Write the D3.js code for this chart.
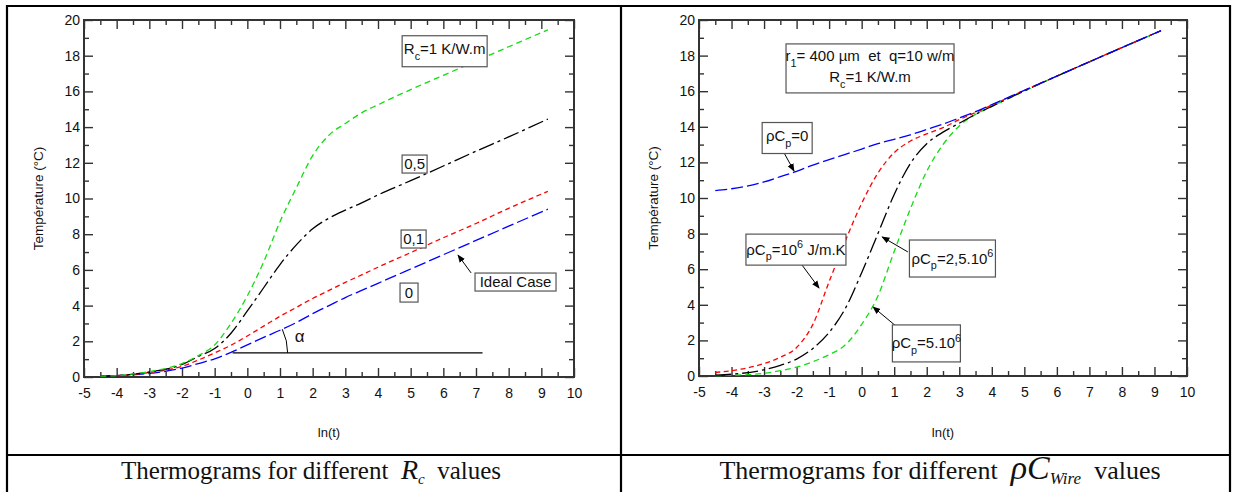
<!DOCTYPE html>
<html>
<head>
<meta charset="utf-8">
<script src="https://cdn.jsdelivr.net/npm/d3@7"></script>
<style>
  body { margin: 0; background: #fff; }
  svg { display: block; }
  text { font-family: "Liberation Sans", Arial, sans-serif; fill: #111; white-space: pre; }
  .caption { font-family: "Liberation Serif", "Times New Roman", serif; }
</style>
</head>
<body>
<svg id="chart" width="1233" height="492"></svg>
<script>
// ---- data ----
// left panel: contact resistance Rc
const lnT_Rc = [-4.5, -4, -3, -2, -1.5, -1, -0.5, 0, 0.5, 1, 1.5, 2, 2.5, 3, 3.5, 4, 5, 6, 7, 8, 9.2];
const T_Rc0  = [0.05, 0.08, 0.2, 0.5, 0.75, 1.02, 1.38, 1.8, 2.22, 2.62, 3.05, 3.55, 4.0, 4.45, 4.85, 5.25, 6.05, 6.85, 7.65, 8.45, 9.4];
const T_Rc01 = [0.05, 0.08, 0.25, 0.6, 0.95, 1.35, 1.78, 2.3, 2.85, 3.4, 3.9, 4.4, 4.85, 5.3, 5.72, 6.15, 6.97, 7.8, 8.6, 9.45, 10.4];
const T_Rc05 = [0.05, 0.08, 0.28, 0.7, 1.15, 1.6, 2.45, 3.7, 5.0, 6.3, 7.4, 8.3, 8.9, 9.35, 9.75, 10.2, 11.0, 11.82, 12.65, 13.45, 14.45];
const T_Rc1  = [0.05, 0.08, 0.3, 0.75, 1.2, 1.8, 3.0, 4.55, 6.45, 8.7, 10.6, 12.4, 13.55, 14.2, 14.8, 15.25, 16.1, 16.9, 17.7, 18.5, 19.45];

// right panel: wire heat capacity rhoCp
const lnT_rho   = [-4.5, -4, -3, -2.5, -2, -1.5, -1, -0.5, 0, 0.5, 1, 1.5, 2, 2.5, 3, 3.5, 4, 5, 6, 7, 8, 9.2];
const T_rho0    = [10.42, 10.52, 10.9, 11.2, 11.5, 11.85, 12.15, 12.45, 12.75, 13.05, 13.3, 13.55, 13.85, 14.15, 14.5, 14.85, 15.25, 16.05, 16.85, 17.65, 18.45, 19.4];
const T_rho1e6  = [0.2, 0.3, 0.7, 1.05, 1.6, 2.9, 5.3, 7.6, 9.7, 11.4, 12.55, 13.2, 13.6, 13.95, 14.4, 14.8, 15.22, 16.05, 16.85, 17.65, 18.45, 19.4];
const T_rho25e6 = [0.05, 0.1, 0.35, 0.6, 0.95, 1.55, 2.45, 3.8, 5.8, 8.0, 10.2, 11.95, 13.05, 13.7, 14.2, 14.7, 15.15, 16.02, 16.85, 17.65, 18.45, 19.4];
const T_rho5e6  = [0.02, 0.04, 0.15, 0.3, 0.5, 0.8, 1.2, 1.75, 2.9, 4.5, 7.0, 9.4, 11.5, 13.0, 14.05, 14.7, 15.15, 16.0, 16.85, 17.65, 18.45, 19.4];

const xDomain = [-5, 10];
const yDomain = [0, 20];
const xTickValues = d3.range(-5, 11, 1);
const yTickValues = d3.range(0, 21, 2);

const xTitle = "ln(t)";
const yTitle = "Température (°C)";
const captionStart = "Thermograms for different  ";
const captionEnd = "  values";

const svg = d3.select("#chart");

// arrow head used by the annotation pointers
svg.append("defs").append("marker")
    .attr("id", "arrow")
    .attr("viewBox", "0 0 10 10")
    .attr("refX", 9).attr("refY", 5)
    .attr("markerWidth", 8).attr("markerHeight", 8)
    .attr("markerUnits", "userSpaceOnUse")
    .attr("orient", "auto")
    .append("path")
    .attr("d", "M0,1 L10,5 L0,9 Z")
    .attr("fill", "#000");

// text with sub/superscript parts: [[str, "sub"|"sup"|undefined], ...]
function richText(sel, parts, size) {
    let shift = 0;
    parts.forEach(([s, kind]) => {
        const target = kind === "sub" ? size * 0.38 : kind === "sup" ? -size * 0.42 : 0;
        const t = sel.append("tspan").text(s).attr("dy", target - shift);
        if (kind) t.attr("font-size", size * 0.72);
        shift = target;
    });
}

function drawPanel(opts) {
    const { left, right, top, bottom } = opts;
    const g = svg.append("g");

    const x = d3.scaleLinear().domain(xDomain).range([left, right]);
    const y = d3.scaleLinear().domain(yDomain).range([bottom, top]);

    const minorX = d3.range(-4.5, 10, 1);
    const minorY = d3.range(1, 20, 2);

    // ticks on all four sides, pointing inwards
    const tickSides = [
        { axis: d3.axisBottom, scale: x, tr: `translate(0,${bottom})`, major: xTickValues, minor: minorX, labels: true },
        { axis: d3.axisTop,    scale: x, tr: `translate(0,${top})`,    major: xTickValues, minor: minorX, labels: false },
        { axis: d3.axisLeft,   scale: y, tr: `translate(${left},0)`,   major: yTickValues, minor: minorY, labels: true },
        { axis: d3.axisRight,  scale: y, tr: `translate(${right},0)`,  major: yTickValues, minor: minorY, labels: false }
    ];
    tickSides.forEach(s => {
        const isX = s.scale === x;
        g.append("g")
            .attr("transform", s.tr)
            .call(s.axis(s.scale).tickValues(s.major).tickSizeInner(-9).tickSizeOuter(0)
                .tickPadding(isX ? 11 : 4)
                .tickFormat(s.labels ? (d => String(d)) : ""))
            .call(a => a.select(".domain").remove())
            .call(a => a.selectAll("line").attr("stroke", "#333").attr("stroke-width", 1.4))
            .call(a => a.selectAll("text").attr("font-size", 14).attr("fill", "#111")
                .style("font-family", '"Liberation Sans", Arial, sans-serif'));
        g.append("g")
            .attr("transform", s.tr)
            .call(s.axis(s.scale).tickValues(s.minor).tickSizeInner(-5).tickSizeOuter(0).tickFormat(""))
            .call(a => a.select(".domain").remove())
            .call(a => a.selectAll("line").attr("stroke", "#333").attr("stroke-width", 1.4));
    });

    // plot frame
    g.append("rect")
        .attr("x", left).attr("y", top)
        .attr("width", right - left).attr("height", bottom - top)
        .attr("fill", "none").attr("stroke", "#333").attr("stroke-width", 2);

    // axis titles
    g.append("text")
        .attr("x", (left + right) / 2).attr("y", 437)
        .attr("text-anchor", "middle").attr("font-size", 13)
        .text(xTitle);
    g.append("text")
        .attr("transform", `translate(${left - 41},${(top + bottom) / 2}) rotate(-90)`)
        .attr("text-anchor", "middle").attr("font-size", 13.5)
        .text(yTitle);

    // curves
    const line = d3.line()
        .x(d => x(d[0]))
        .y(d => y(d[1]))
        .curve(d3.curveMonotoneX);

    opts.series.forEach(s => {
        g.append("path")
            .datum(opts.lnT.map((t, i) => [t, s.values[i]]))
            .attr("fill", "none")
            .attr("stroke", s.color)
            .attr("stroke-width", 1.3)
            .attr("stroke-dasharray", s.dash)
            .attr("d", line);
    });

    // boxed labels
    opts.labels.forEach(l => {
        const cx = x(l.x), cy = y(l.y);
        if (l.arrow) {
            g.append("line")
                .attr("x1", x(l.arrow[0])).attr("y1", y(l.arrow[1]))
                .attr("x2", x(l.arrow[2])).attr("y2", y(l.arrow[3]))
                .attr("stroke", "#000").attr("stroke-width", 1)
                .attr("marker-end", "url(#arrow)");
        }
        g.append("rect")
            .attr("x", cx - l.w / 2).attr("y", cy - l.h / 2)
            .attr("width", l.w).attr("height", l.h)
            .attr("fill", "#fff").attr("stroke", "#555").attr("stroke-width", 1.2);
        l.lines.forEach((parts, i) => {
            const t = g.append("text")
                .attr("x", cx)
                .attr("y", cy + (l.base || 5) + (i - (l.lines.length - 1) / 2) * 21)
                .attr("text-anchor", "middle")
                .attr("font-size", l.size || 15);
            richText(t, parts, l.size || 15);
        });
    });

    return { g, x, y };
}

// ---- left panel ----
const leftPanel = drawPanel({
    left: 84, right: 574, top: 20, bottom: 377,
    lnT: lnT_Rc,
    series: [
        { values: T_Rc0,  color: "#0000ff", dash: "12,4" },
        { values: T_Rc01, color: "#ff0000", dash: "5,3.5" },
        { values: T_Rc05, color: "#000000", dash: "16,4,3,4" },
        { values: T_Rc1,  color: "#11dd11", dash: "6,4" }
    ],
    labels: [
        { x: 6.04, y: 18.25, w: 85, h: 31, base: 3, lines: [[["R"], ["c", "sub"], ["=1 K/W.m"]]] },
        { x: 5.12, y: 11.93, w: 25, h: 18, lines: [[["0,5"]]] },
        { x: 5.09, y: 7.73, w: 25, h: 18, lines: [[["0,1"]]] },
        { x: 4.95, y: 4.73, w: 18, h: 19, lines: [[["0"]]] },
        { x: 8.21, y: 5.32, w: 81, h: 18, lines: [[["Ideal Case"]]], arrow: [6.85, 5.83, 6.45, 6.83] }
    ]
});

// slope angle alpha on the ideal case
{
    const { g, x, y } = leftPanel;
    const x0 = x(-0.45), y0 = y(1.35);
    g.append("line")
        .attr("x1", x0).attr("y1", y0)
        .attr("x2", x(7.2)).attr("y2", y0)
        .attr("stroke", "#000").attr("stroke-width", 1.2);
    const r = 55;
    const i1 = lnT_Rc.indexOf(1);
    const ang = Math.atan2(y0 - y(T_Rc0[i1]), x(1) - x0);
    g.append("path")
        .attr("d", `M${x0 + r},${y0} A${r},${r} 0 0 0 ${x0 + r * Math.cos(ang)},${y0 - r * Math.sin(ang)}`)
        .attr("fill", "none").attr("stroke", "#000").attr("stroke-width", 1);
    g.append("text")
        .attr("x", x(1.6)).attr("y", y(1.95))
        .attr("text-anchor", "middle").attr("font-size", 17)
        .text("α");
}

// ---- right panel ----
drawPanel({
    left: 699, right: 1187, top: 20, bottom: 376,
    lnT: lnT_rho,
    series: [
        { values: T_rho5e6,  color: "#11dd11", dash: "6,4" },
        { values: T_rho25e6, color: "#000000", dash: "16,4,3,4" },
        { values: T_rho1e6,  color: "#ff0000", dash: "5,3.5" },
        { values: T_rho0,    color: "#0000ff", dash: "12,4" }
    ],
    labels: [
        { x: 0.257, y: 17.28, w: 168, h: 49, base: 3,
          lines: [[["r"], ["1", "sub"], ["= 400 µm  et  q=10 w/m"]], [["R"], ["c", "sub"], ["=1 K/W.m"]]] },
        { x: -2.29, y: 13.37, w: 50, h: 31, base: 3, lines: [[["ρC"], ["p", "sub"], ["=0"]]],
          arrow: [-2.45, 12.75, -2.08, 11.52] },
        { x: -2.02, y: 7.1, w: 100, h: 31, base: 5, lines: [[["ρC"], ["p", "sub"], ["=10"], ["6", "sup"], [" J/m.K"]]],
          arrow: [-1.9, 6.4, -1.31, 4.94] },
        { x: 2.79, y: 6.6, w: 86, h: 37, base: 5, lines: [[["ρC"], ["p", "sub"], ["=2,5.10"], ["6", "sup"]]],
          arrow: [1.42, 6.97, 0.63, 7.81] },
        { x: 1.99, y: 1.83, w: 68, h: 37, base: 5, lines: [[["ρC"], ["p", "sub"], ["=5.10"], ["6", "sup"]]],
          arrow: [1.09, 2.75, 0.35, 3.88] }
    ]
});

// ---- table frame and captions ----
const frame = svg.append("g").attr("stroke", "#000").attr("stroke-width", 2.2);
frame.append("line").attr("x1", 6).attr("x2", 1231).attr("y1", 6).attr("y2", 6);
frame.append("line").attr("x1", 7).attr("x2", 7).attr("y1", 5).attr("y2", 492);
frame.append("line").attr("x1", 621).attr("x2", 621).attr("y1", 5).attr("y2", 492);
frame.append("line").attr("x1", 1230).attr("x2", 1230).attr("y1", 5).attr("y2", 492);
frame.append("line").attr("x1", 6).attr("x2", 1231).attr("y1", 455).attr("y2", 455);

const capL = svg.append("text").attr("class", "caption")
    .attr("x", 311).attr("y", 479).attr("text-anchor", "middle").attr("font-size", 25);
capL.append("tspan").text(captionStart);
capL.append("tspan").text("R").attr("font-style", "italic").attr("font-size", 28);
capL.append("tspan").text("c").attr("font-style", "italic").attr("font-size", 15).attr("dy", 5);
capL.append("tspan").text(captionEnd).attr("dy", -5);

const capR = svg.append("text").attr("class", "caption")
    .attr("x", 940).attr("y", 479).attr("text-anchor", "middle").attr("font-size", 26);
capR.append("tspan").text(captionStart);
capR.append("tspan").text("ρC").attr("font-style", "italic").attr("font-size", 34);
capR.append("tspan").text("Wire").attr("font-style", "italic").attr("font-size", 17).attr("dy", 5);
capR.append("tspan").text(captionEnd).attr("dy", -5);
</script>
</body>
</html>
